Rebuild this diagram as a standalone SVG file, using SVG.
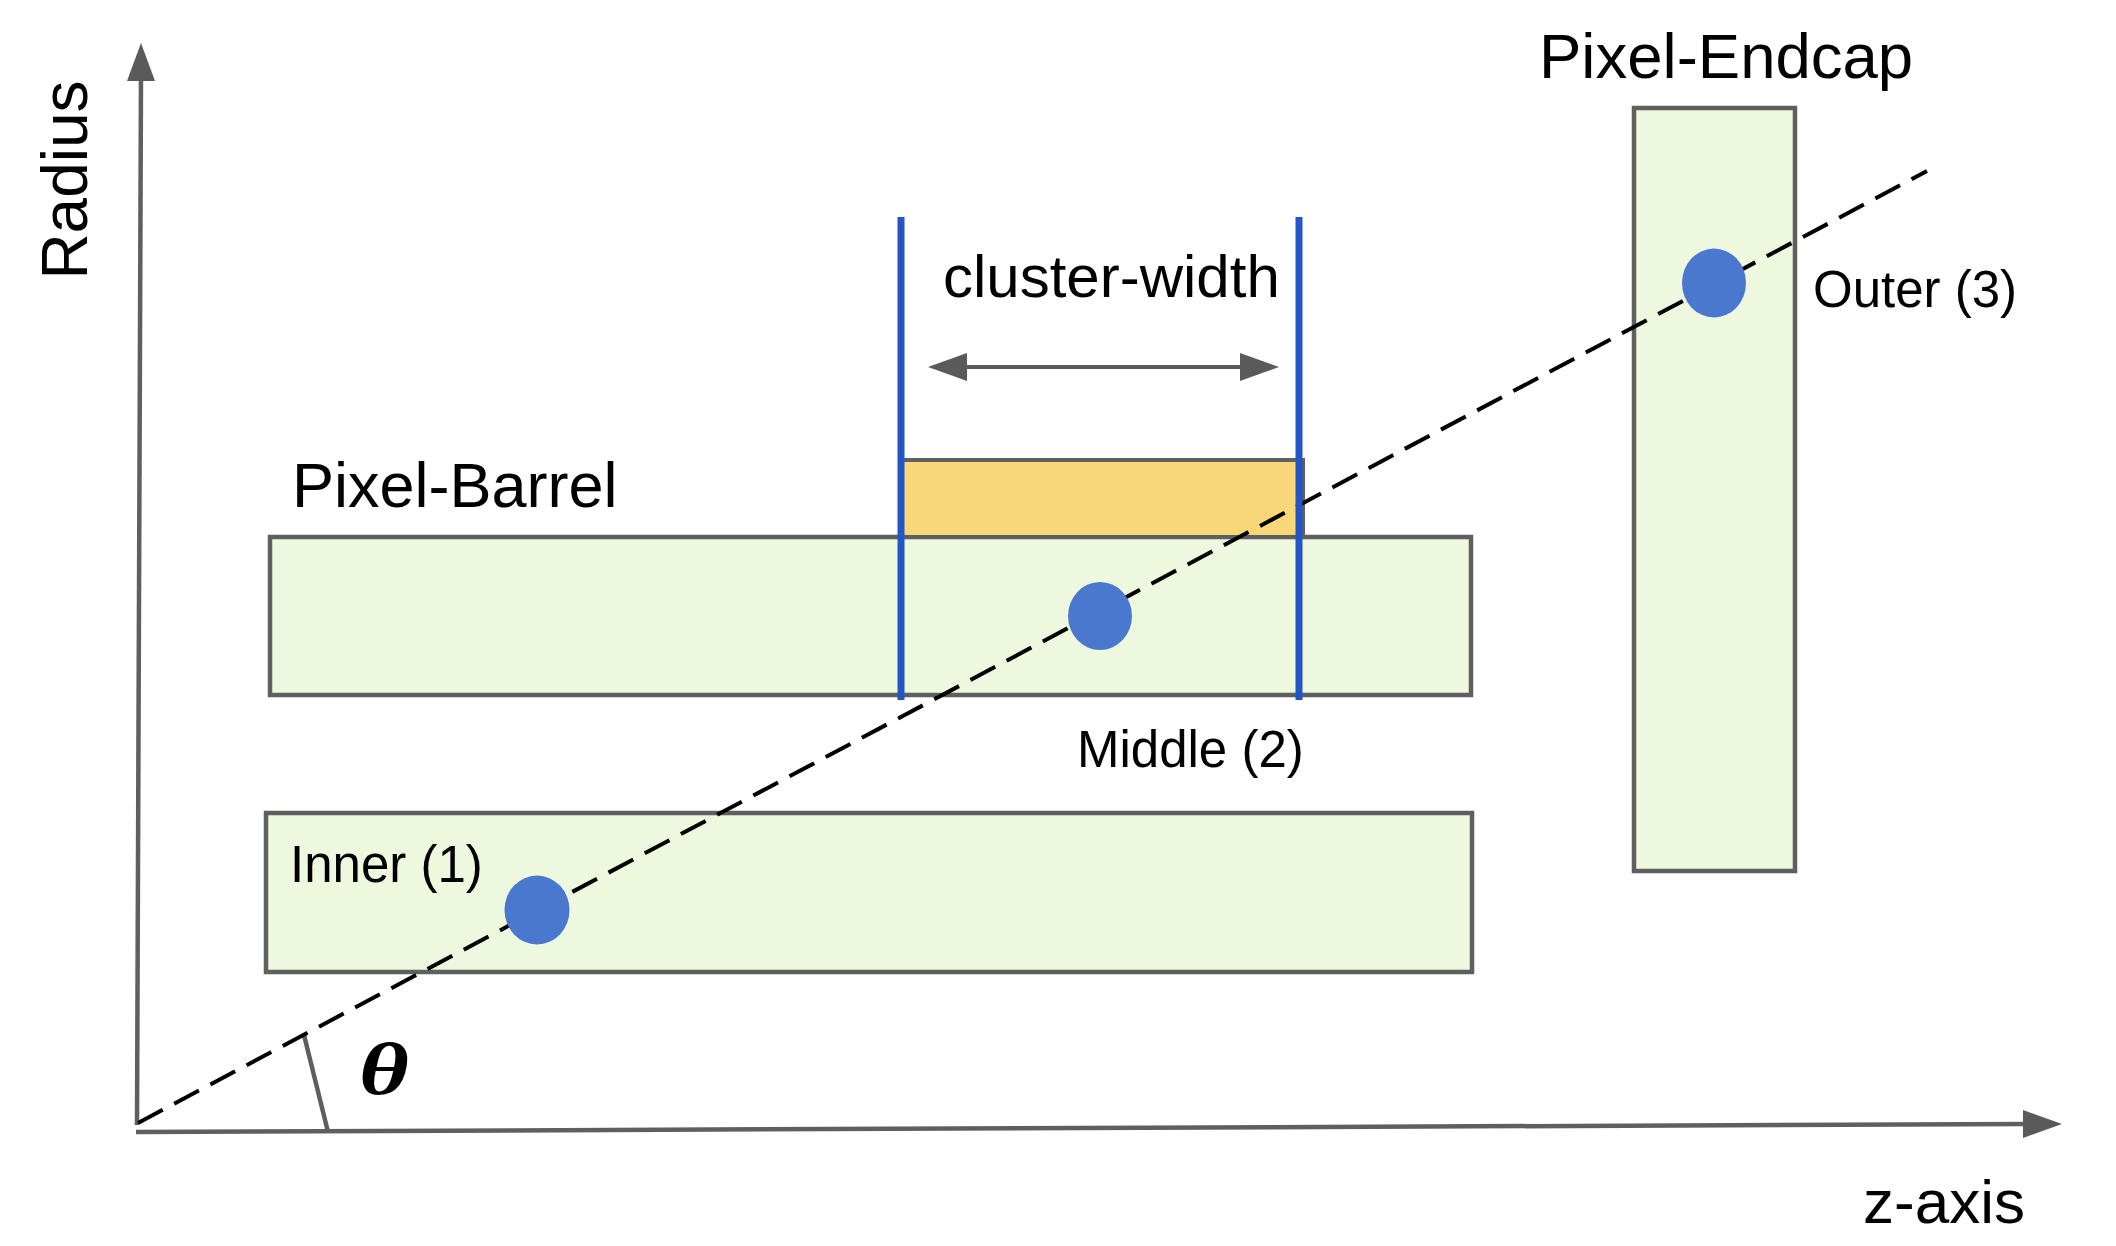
<svg xmlns="http://www.w3.org/2000/svg" width="2116" height="1246" viewBox="0 0 2116 1246">
<style>
.lbl{font-family:"Liberation Sans",Arial,sans-serif;fill:#000}
.box{fill:#eef8df;stroke:#5f5f5f;stroke-width:4.5}
.axis{stroke:#5f5f5f;stroke-width:4.5;fill:none}
.dot{fill:#4a78cf}
.blue{stroke:#2356c4;stroke-width:7}
</style>
<rect width="2116" height="1246" fill="#fff"/>
<g id="barrel">
<rect class="box" x="270" y="537" width="1201" height="158"/>
</g>
<g id="inner-layer">
<rect class="box" x="266" y="813" width="1206" height="159"/>
</g>
<g id="endcap">
<rect class="box" x="1634" y="108" width="161" height="763"/>
</g>
<g id="cluster">
<rect x="901" y="460" width="402" height="77" fill="#f9d778" stroke="#5f5f5f" stroke-width="4"/>
</g>
<g id="connectors">
<line class="axis" x1="141" y1="75" x2="137" y2="1125"/>
<polygon points="141,43 127,81 155,81" fill="#5a5a5a"/>
<line class="axis" x1="136" y1="1132" x2="2028" y2="1124"/>
<polygon points="2062,1124 2023,1110 2023,1138" fill="#5a5a5a"/>
<line class="axis" x1="304" y1="1035" x2="328" y2="1132"/>
<line x1="138" y1="1123" x2="1927" y2="171" stroke="#000" stroke-width="4" stroke-dasharray="28,13"/>
<line class="blue" x1="901" y1="217" x2="901" y2="700"/>
<line class="blue" x1="1299" y1="217" x2="1299" y2="700"/>
<line x1="960" y1="367" x2="1247" y2="367" stroke="#5a5a5a" stroke-width="4"/>
<polygon points="928,367 967,353 967,381" fill="#5a5a5a"/>
<polygon points="1279,367 1240,353 1240,381" fill="#5a5a5a"/>
</g>
<g id="hit-inner"><ellipse class="dot" cx="537" cy="910" rx="32.5" ry="34.5"/></g>
<g id="hit-middle"><ellipse class="dot" cx="1100" cy="616" rx="32" ry="34"/></g>
<g id="hit-outer"><ellipse class="dot" cx="1714" cy="283" rx="32" ry="34.5"/></g>
<g id="labels">
<text class="lbl" x="87" y="180" font-size="64" text-anchor="middle" transform="rotate(-90 87 180)">Radius</text>
<text class="lbl" x="1863" y="1223" font-size="62">z-axis</text>
<text class="lbl" x="292" y="507" font-size="63">Pixel-Barrel</text>
<text class="lbl" x="1539" y="78" font-size="63.5">Pixel-Endcap</text>
<text class="lbl" x="943" y="297" font-size="60">cluster-width</text>
<text class="lbl" x="1077" y="767" font-size="51">Middle (2)</text>
<text class="lbl" x="290" y="882" font-size="51">Inner (1)</text>
<text class="lbl" x="1813" y="307" font-size="51">Outer (3)</text>
<text x="0" y="0" font-size="74" font-style="italic" font-weight="bold" text-anchor="middle" transform="translate(384 1094) scale(1.3 1)" font-family="'Liberation Serif','Times New Roman',serif">θ</text>
</g>
</svg>
